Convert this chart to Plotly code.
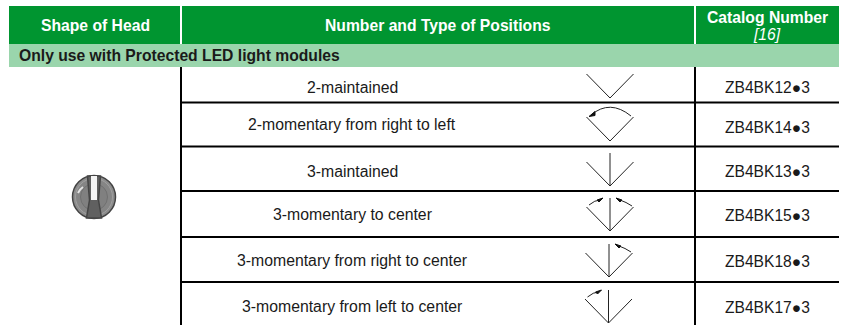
import plotly.graph_objects as go

headers = ["Shape of Head", "Number and Type of Positions", "Catalog Number"]
header_note = "[16]"
band_text = "Only use with Protected LED light modules"
positions = ["2-maintained", "2-momentary from right to left", "3-maintained",
             "3-momentary to center", "3-momentary from right to center",
             "3-momentary from left to center"]
catalog = ["ZB4BK12●3", "ZB4BK14●3", "ZB4BK13●3", "ZB4BK15●3", "ZB4BK18●3", "ZB4BK17●3"]
has_center = [False, False, True, True, True, True]
left_arrow = [False, True, False, True, False, True]
right_arrow = [False, False, False, True, True, False]
wide_arc = [False, True, False, False, False, False]

GREEN = "#009530"
BAND = "#9AD5AC"
FONT = "Liberation Sans, Arial, sans-serif"
X0, X1, X2, X3 = 9, 181, 695, 839
row_edges = [67, 102.5, 146.5, 191, 237, 282, 325]
position_y = [87, 124, 171, 214, 260, 306]
catalog_y = [87, 127, 171, 215, 261, 307]
icon_cx = [610, 610, 610, 610, 609, 608.5]
icon_bottom = [98, 141, 186, 231, 277, 323]

shapes, ann = [], []

def rect(x0, y0, x1, y1, color):
    shapes.append(dict(type="rect", x0=x0, y0=y0, x1=x1, y1=y1, fillcolor=color,
                       line=dict(width=0), layer="below"))

def seg(x0, y0, x1, y1, color="#000000", w=2):
    shapes.append(dict(type="line", x0=x0, y0=y0, x1=x1, y1=y1, line=dict(color=color, width=w)))

def path(d, color="#222222", w=1, fill=None):
    shapes.append(dict(type="path", path=d, line=dict(color=color, width=w),
                       fillcolor=fill if fill else "rgba(0,0,0,0)"))

def text(x, y, s, size=15.8, color="#1a1a1a", bold=False, italic=False):
    if bold:
        s = f"<b>{s}</b>"
    if italic:
        s = f"<i>{s}</i>"
    ann.append(dict(x=x, y=y, text=s, showarrow=False, xanchor="center", yanchor="middle",
                    font=dict(family=FONT, size=size, color=color)))

rect(X0, 6, X3, 44, GREEN)
rect(X0, 44, X3, 67, BAND)
seg(X1, 6, X1, 44, "#ffffff", 2)
seg(X2, 6, X2, 44, "#ffffff", 2)
text(95, 25.5, headers[0], 15.7, "#ffffff", True)
text(438, 25.5, headers[1], 15.7, "#ffffff", True)
text(767, 17.5, headers[2], 15.7, "#ffffff", True)
text(767, 34, header_note, 15.7, "#ffffff", italic=True)
ann.append(dict(x=16.5, y=55.5, text=f"<b>{band_text}</b>", showarrow=False, xanchor="left",
                yanchor="middle", font=dict(family=FONT, size=15.7, color="#1a1a1a")))

seg(X1, 67, X1, 325)
seg(X2, 67, X2, 325)
for y in row_edges[1:-1]:
    seg(X1, y, X3, y)

for i in range(6):
    text(352, position_y[i], positions[i])
    text(767, catalog_y[i], catalog[i], 15.6)
    cx, by = icon_cx[i], icon_bottom[i]
    path(f"M{cx-23.5},{by-24} L{cx},{by} L{cx+23.5},{by-24}")
    if has_center[i]:
        seg(cx, by, cx, by - 33, "#222222", 1)
    if wide_arc[i]:
        path(f"M{cx+21},{by-25} Q{cx},{by-42} {cx-19},{by-26}")
        path(f"M{cx-21},{by-24.5} L{cx-15},{by-29.5} L{cx-15},{by-25.5} Z", "#111111", 1, "#111111")
    if left_arrow[i] and not wide_arc[i]:
        path(f"M{cx-21},{by-26} Q{cx-15},{by-31} {cx-10},{by-31}")
        path(f"M{cx-7},{by-33} L{cx-13},{by-31} L{cx-11},{by-29} Z", "#111111", 1, "#111111")
    if right_arrow[i]:
        path(f"M{cx+22},{by-25} Q{cx+16},{by-29} {cx+10},{by-31}")
        path(f"M{cx+6},{by-33} L{cx+12},{by-31} L{cx+10},{by-29} Z", "#111111", 1, "#111111")

# Head pictogram
kx, ky, kr = 94, 197, 21.5
def circle(r, fill, line, w):
    shapes.append(dict(type="circle", x0=kx-r, y0=ky-r, x1=kx+r, y1=ky+r, fillcolor=fill,
                       line=dict(color=line, width=w)))
circle(kr, "#8c8c8c", "#444444", 1.5)
circle(kr - 3, "#858585", "#a0a0a0", 1)
circle(kr - 8, "#808080", "#707070", 1)
path(f"M{kx-6.5},{ky-21} L{kx+6.5},{ky-21} L{kx+4.5},{ky+3} L{kx+7.5},{ky+21} L{kx-7.5},{ky+21} L{kx-4.5},{ky+3} Z",
     "#454545", 1.5, "#606060")
path(f"M{kx-3},{ky-21} L{kx+3},{ky-21} L{kx+3},{ky+3} L{kx-3},{ky+3} Z", "#f4f4f4", 0, "#f4f4f4")
path(f"M{kx-16},{ky-4} Q{kx-14},{ky-8} {kx-11},{ky-10}", "#e4e4e4", 2)

fig = go.Figure()
fig.update_layout(
    width=844, height=325, margin=dict(l=0, r=0, t=0, b=0),
    paper_bgcolor="#ffffff", plot_bgcolor="#ffffff", showlegend=False,
    xaxis=dict(range=[0, 844], visible=False, fixedrange=True),
    yaxis=dict(range=[325, 0], visible=False, fixedrange=True),
    shapes=shapes, annotations=ann,
)
fig.write_html("out.html", config=dict(displayModeBar=False),
               post_script="document.body.style.margin='0';document.body.style.overflow='hidden';")
